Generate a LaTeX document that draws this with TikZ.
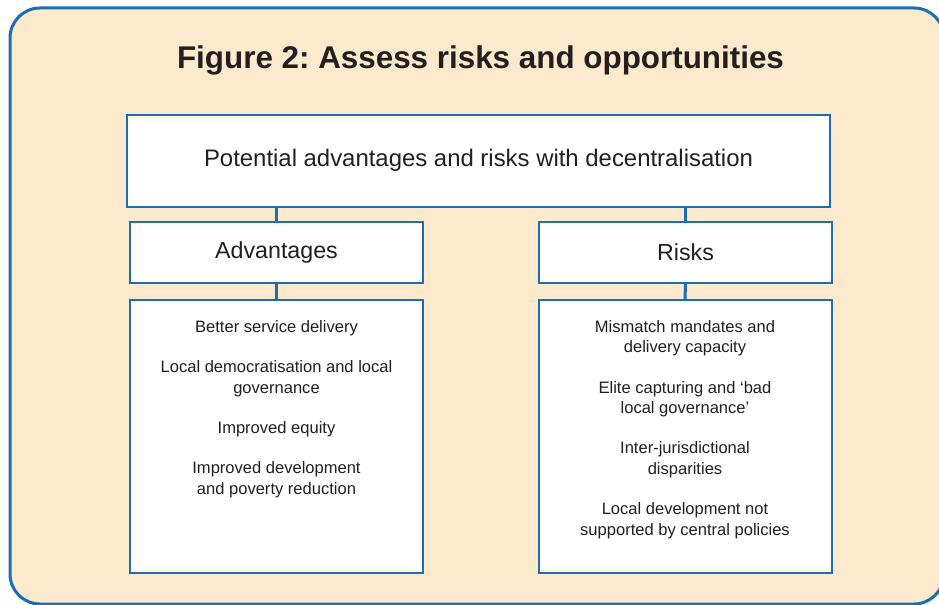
\documentclass[tikz,border=0pt]{standalone}
\usepackage{fontspec}
\setmainfont{Liberation Sans}
\usetikzlibrary{positioning}
\definecolor{frameblue}{HTML}{1B6EB5}
\definecolor{panelbeige}{HTML}{FDE9CC}
\definecolor{inkgray}{HTML}{231F20}
\frenchspacing

\begin{document}
\begin{tikzpicture}[x=1bp,y=-1bp,
  box/.style={draw=frameblue, line width=2bp, fill=white, text=inkgray,
    inner sep=0pt, align=center},
  headbox/.style={box, minimum width=293bp, minimum height=61bp,
    font=\fontsize{23.3}{26}\selectfont},
  listbox/.style={box, minimum width=293bp, minimum height=273bp},
  listtext/.style={text=inkgray, inner sep=0pt, align=center,
    font=\fontsize{16.6}{20.5}\selectfont},
  link/.style={draw=frameblue, line width=3bp}]
  \useasboundingbox (0,0) rectangle (939,605);

  % panel
  \draw[frameblue, line width=3bp, fill=panelbeige, rounded corners=30bp]
    (10,8) rectangle (944,604);

  % title
  \node (title) [text=inkgray, font=\fontsize{31.5}{36}\selectfont\bfseries]
    at (480.5,60) {Figure 2: Assess risks and opportunities};

  % boxes
  \node (top) [box, minimum width=703bp, minimum height=92bp,
    font=\fontsize{24}{28}\selectfont] at (478.5,161)
    {\raisebox{6bp}{Potential advantages and risks with decentralisation}};
  \node (adv) [headbox] at (276.5,252.5) {Advantages};
  \node (risk) [headbox] at (685.5,252.5) {Risks};
  \node (advlist) [listbox] at (276.5,436.5) {};
  \node (risklist) [listbox] at (685,436.5) {};

  % connectors
  \draw[link] (adv.north) -- (adv.north |- top.south);
  \draw[link] (risk.north) -- (risk.north |- top.south);
  \draw[link] (advlist.north) -- (adv.south);
  \draw[link] (risklist.north) -- (risk.south);

  % list texts
  \node (advtext) [listtext, below=21bp of advlist.north] {%
    Better service delivery\\[20bp]
    Local democratisation and local\\governance\\[20bp]
    Improved equity\\[20bp]
    Improved development\\and poverty reduction};
  \node (risktext) [listtext, below=21bp of risklist.north] {%
    Mismatch mandates and\\delivery capacity\\[20bp]
    Elite capturing and ‘bad\\local governance’\\[20bp]
    Inter-jurisdictional\\disparities\\[20bp]
    Local development not\\supported by central policies};
\end{tikzpicture}
\end{document}
